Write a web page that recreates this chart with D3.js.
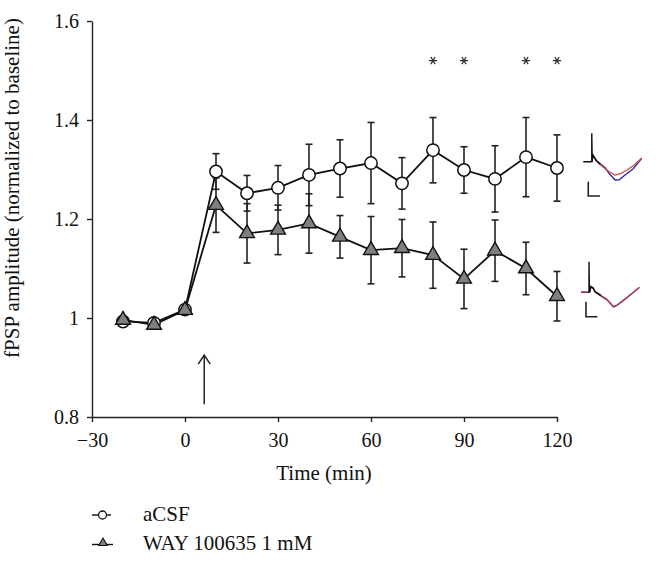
<!DOCTYPE html>
<html><head><meta charset="utf-8">
<script src="https://cdn.jsdelivr.net/npm/d3@7"></script>
<style>
html,body{margin:0;padding:0;background:#fff;}
svg{display:block;font-family:"Liberation Serif","DejaVu Serif",serif;}
</style></head>
<body><svg id="c" width="656" height="563"></svg>
<script>
// ---- data ----
const times = [-20,-10,0,10,20,30,40,50,60,70,80,90,100,110,120];
const acsf = [0.993,0.990,1.017,1.296,1.252,1.263,1.289,1.302,1.313,1.272,1.339,1.299,1.281,1.325,1.303];
const acsfErr = [0.006,0.006,0.008,0.036,0.036,0.045,0.062,0.058,0.082,0.052,0.066,0.047,0.067,0.080,0.067];
const way = [0.996,0.986,1.016,1.228,1.171,1.178,1.191,1.164,1.137,1.141,1.127,1.079,1.136,1.100,1.044];
const wayErr = [0.006,0.006,0.008,0.055,0.060,0.050,0.060,0.043,0.068,0.058,0.067,0.060,0.062,0.053,0.050];
const sigTimes = [80,90,110,120];
const xTicks = [-30,0,30,60,90,120];
const xTickLabels = ["\u221230","0","30","60","90","120"];
const yTicks = [0.8,1.0,1.2,1.4,1.6];
const yTickLabels = ["0.8","1","1.2","1.4","1.6"];
const seriesNames = ["aCSF","WAY 100635 1 mM"];
const arrowTime = 6.2;
const arrowRange = [0.826, 0.925];
const starLevel = 1.52;
// inset traces: [ms, mV]
const topBlack = [[0,0],[2.9,0],[2.9,2.84],[3.05,0],[3.3,0.67],[3.8,0.4],[4.5,0.1],[5.8,-0.25]];
const topBlue = [[3.3,0.67],[3.8,0.4],[4.5,0.1],[5.8,-0.2],[7.5,-0.6],[8.9,-1.2],[10.9,-1.83],[12.3,-1.8],[14.4,-1.3],[17.1,-0.7],[20,0.34]];
const topRed = [[3.3,0.67],[3.8,0.4],[4.5,0.1],[5.8,-0.3],[7.5,-0.7],[8.9,-1.0],[10.9,-1.33],[12.7,-1.2],[15.1,-0.8],[17.1,-0.4],[20,0.34]];
const botBlack = [[2.5,0],[2.74,0],[2.74,3.06],[2.9,0],[3.4,0.56],[4.2,0.4],[4.8,0.06],[6.8,-0.3]];
const botBlue = [[0,0],[2.5,0],[2.9,0],[3.4,0.56],[4.2,0.4],[4.8,0.06],[6.8,-0.35],[8.9,-0.75],[11.1,-1.46],[12.3,-1.32],[15.4,-0.62],[20,0.48]];
const botRed = [[0,0.03],[2.5,0.03],[2.9,0.03],[3.4,0.58],[4.2,0.42],[4.8,0.08],[6.8,-0.3],[8.9,-0.7],[11.1,-1.4],[12.3,-1.27],[15.4,-0.57],[20,0.52]];
const scaleBarTop = [[1.7,-2.0],[1.7,-3.43],[5.7,-3.43]];
const scaleBarBot = [[1.7,-0.94],[1.7,-2.44],[5.6,-2.44]];

const svg = d3.select("#c");
const x = d3.scaleLinear().domain([-30,120]).range([92,557]);
const y = d3.scaleLinear().domain([0.8,1.6]).range([417,21]);

// axes
const xAxis = d3.axisBottom(x).tickValues(xTicks).tickSizeOuter(0).tickSizeInner(5).tickPadding(6)
  .tickFormat((d,i)=>xTickLabels[i]);
const gx = svg.append("g").attr("transform","translate(0,417)").call(xAxis);
const yAxis = d3.axisLeft(y).tickValues(yTicks).tickSizeOuter(0).tickSizeInner(5).tickPadding(8)
  .tickFormat((d,i)=>yTickLabels[i]);
const gy = svg.append("g").attr("transform","translate(92,0)").call(yAxis);
[gx,gy].forEach(g=>{
  g.selectAll("path,line").attr("stroke","#222").attr("stroke-width",1.4);
  g.selectAll("text").attr("font-family","Liberation Serif, serif").attr("font-size",20).attr("fill","#111");
});
gx.selectAll("text").attr("dy","0.95em");

svg.append("text").attr("x",324).attr("y",480).attr("text-anchor","middle")
  .attr("font-size",21).attr("fill","#111").text("Time (min)");
svg.append("text").attr("transform","translate(19,188) rotate(-90)").attr("text-anchor","middle")
  .attr("font-size",21).attr("fill","#111").text("fPSP amplitude (normalized to baseline)");

// arrow
const ax = x(arrowTime);
svg.append("line").attr("x1",ax).attr("x2",ax).attr("y1",y(arrowRange[0])).attr("y2",y(arrowRange[1]))
  .attr("stroke","#222").attr("stroke-width",1.5);
svg.append("path").attr("d",`M${ax-6},${y(arrowRange[1])+9}L${ax},${y(arrowRange[1])}L${ax+6},${y(arrowRange[1])+9}`)
  .attr("fill","none").attr("stroke","#222").attr("stroke-width",1.5);

// error bars
function errBars(vals, errs){
  const g = svg.append("g").attr("stroke","#222").attr("stroke-width",1.6);
  times.forEach((t,i)=>{
    const cx = x(t), y1 = y(vals[i]+errs[i]), y2 = y(vals[i]-errs[i]);
    g.append("line").attr("x1",cx).attr("x2",cx).attr("y1",y1).attr("y2",y2);
    g.append("line").attr("x1",cx-3.5).attr("x2",cx+3.5).attr("y1",y1).attr("y2",y1);
    g.append("line").attr("x1",cx-3.5).attr("x2",cx+3.5).attr("y1",y2).attr("y2",y2);
  });
}
errBars(way, wayErr);
errBars(acsf, acsfErr);

const line = d3.line().x(d=>x(d[0])).y(d=>y(d[1]));
svg.append("path").datum(times.map((t,i)=>[t,way[i]])).attr("d",line)
  .attr("fill","none").attr("stroke","#111").attr("stroke-width",1.8);
svg.append("path").datum(times.map((t,i)=>[t,acsf[i]])).attr("d",line)
  .attr("fill","none").attr("stroke","#111").attr("stroke-width",1.8);

svg.append("g").selectAll("circle").data(times).join("circle")
  .attr("cx",d=>x(d)).attr("cy",(d,i)=>y(acsf[i])).attr("r",6.2)
  .attr("fill","#fff").attr("stroke","#111").attr("stroke-width",1.5);
const tri = d3.symbol().type(d3.symbolTriangle).size(95);
svg.append("g").selectAll("path").data(times).join("path")
  .attr("transform",(d,i)=>`translate(${x(d)},${y(way[i])})`).attr("d",tri)
  .attr("fill","#7f7f7f").attr("stroke","#111").attr("stroke-width",1.4);

// significance stars
const star = d3.symbol().type(d3.symbolAsterisk).size(48);
svg.append("g").selectAll("path").data(sigTimes).join("path")
  .attr("transform",d=>`translate(${x(d)},${y(starLevel)}) rotate(90)`).attr("d",star)
  .attr("fill","none").attr("stroke","#333").attr("stroke-width",1.3);

// insets
const ix = d3.scaleLinear().domain([0,20]);
const iy = d3.scaleLinear().domain([0,1]);
function inset(x0, y0, black, blue, red, bar){
  ix.range([x0, x0+58.4]);
  iy.range([y0, y0-10]);
  const l = d3.line().x(d=>ix(d[0])).y(d=>iy(d[1]));
  svg.append("path").attr("d",l(blue)).attr("fill","none").attr("stroke","#2b2ba8").attr("stroke-width",1.4);
  svg.append("path").attr("d",l(red)).attr("fill","none").attr("stroke","#d0453e").attr("stroke-width",1.2);
  svg.append("path").attr("d",l(black)).attr("fill","none").attr("stroke","#111").attr("stroke-width",1.4);
  svg.append("path").attr("d",l(bar)).attr("fill","none").attr("stroke","#222").attr("stroke-width",1.6);
}
inset(583.3, 161.7, topBlack, topBlue, topRed, scaleBarTop);
inset(581, 292.3, botBlack, botBlue, botRed, scaleBarBot);

// legend
const leg = svg.append("g");
leg.append("line").attr("x1",92).attr("x2",111).attr("y1",515).attr("y2",515).attr("stroke","#111").attr("stroke-width",1.4);
leg.append("circle").attr("cx",102.5).attr("cy",515).attr("r",4).attr("fill","#fff").attr("stroke","#111").attr("stroke-width",1.3);
leg.append("line").attr("x1",92).attr("x2",113).attr("y1",544.5).attr("y2",544.5).attr("stroke","#111").attr("stroke-width",1.4);
leg.append("path").attr("transform","translate(103,543)").attr("d",d3.symbol().type(d3.symbolTriangle).size(32))
  .attr("fill","#7f7f7f").attr("stroke","#111").attr("stroke-width",1.1);
leg.append("text").attr("x",143).attr("y",521).attr("font-size",21).attr("fill","#111").text(seriesNames[0]);
leg.append("text").attr("x",143).attr("y",550).attr("font-size",21).attr("fill","#111").text(seriesNames[1]);
</script></body></html>
